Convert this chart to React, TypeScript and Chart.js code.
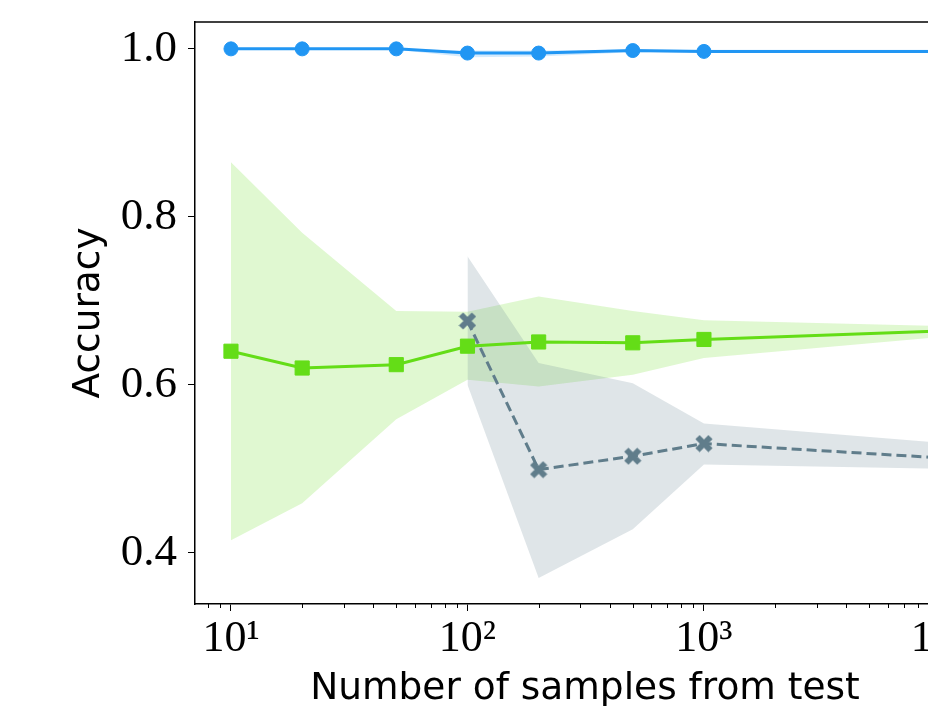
import React, { useEffect, useRef } from 'react';
import { Chart, registerables } from 'chart.js';

Chart.register(...registerables);

// ---- data ----
const sampleSizes = [10, 20, 50, 100, 200, 500, 1000, 10000];
const blueMean = [1.0, 1.0, 1.0, 0.995, 0.995, 0.998, 0.997, 0.997];
const blueUpper = [1.0, 1.0, 1.0, 0.998, 0.998, 0.999, 0.999, 0.999];
const blueLower = [1.0, 1.0, 0.999, 0.99, 0.991, 0.996, 0.995, 0.995];

const greenMean = [0.64, 0.62, 0.624, 0.646, 0.651, 0.65, 0.654, 0.664];
const greenUpper = [0.865, 0.781, 0.688, 0.687, 0.705, 0.688, 0.677, 0.67];
const greenLower = [0.415, 0.459, 0.559, 0.606, 0.598, 0.612, 0.632, 0.657];

const graySizes = [100, 200, 500, 1000, 10000];
const grayMean = [0.676, 0.499, 0.515, 0.53, 0.513];
const grayUpper = [0.753, 0.626, 0.602, 0.554, 0.531];
const grayLower = [0.6, 0.37, 0.428, 0.505, 0.5];

const yTickValues = [0.4, 0.6, 0.8, 1.0];
const xMajorLabels: Record<string, string> = {
  '10': '10¹',
  '100': '10²',
  '1000': '10³',
  '10000': '10⁴',
};

const BLUE = '#2196F3';
const GREEN = '#64DD17';
const GRAY = '#607D8B';

function pts(xs: number[], ys: number[]) {
  return xs.map((x, i) => ({ x, y: ys[i] }));
}

function isPow10(v: number) {
  const l = Math.log10(v);
  return Math.abs(l - Math.round(l)) < 1e-9;
}

const framePlugin = {
  id: 'frame',
  afterDraw(chart: any) {
    const { ctx, chartArea, scales } = chart;
    ctx.save();
    ctx.strokeStyle = '#000';
    ctx.lineWidth = 1.5;
    ctx.beginPath();
    ctx.moveTo(chartArea.left - 0.75, Math.round(chartArea.top));
    ctx.lineTo(chartArea.right, Math.round(chartArea.top));
    ctx.stroke();
    const xs = scales.x;
    ctx.lineWidth = 1;
    ctx.beginPath();
    xs.ticks.forEach((t: any) => {
      if (!isPow10(t.value)) {
        const px = Math.round(xs.getPixelForValue(t.value)) + 0.5;
        ctx.moveTo(px, chartArea.bottom);
        ctx.lineTo(px, chartArea.bottom + 4);
      }
    });
    ctx.stroke();
    ctx.restore();
  },
};

export default function App() {
  const ref = useRef<HTMLCanvasElement>(null);

  useEffect(() => {
    const canvas = ref.current!;
    const xMark = document.createElement('canvas');
    xMark.width = 18;
    xMark.height = 18;
    const g = xMark.getContext('2d')!;
    g.strokeStyle = GRAY;
    g.lineWidth = 6;
    g.lineCap = 'butt';
    g.beginPath();
    g.moveTo(2.5, 2.5);
    g.lineTo(15.5, 15.5);
    g.moveTo(15.5, 2.5);
    g.lineTo(2.5, 15.5);
    g.stroke();

    const band = (data: any, color: string, fill: any, order: number) => ({
      data,
      borderColor: 'rgba(0,0,0,0)',
      borderWidth: 0,
      backgroundColor: color,
      pointRadius: 0,
      pointHoverRadius: 0,
      fill,
      order,
      tension: 0,
    });

    const chart = new Chart(canvas, {
      type: 'line',
      data: {
        datasets: [
          band(pts(sampleSizes, blueUpper), 'rgba(33,150,243,0.2)', '+1', 5),
          band(pts(sampleSizes, blueLower), 'rgba(0,0,0,0)', false, 5),
          band(pts(sampleSizes, greenUpper), 'rgba(100,221,23,0.2)', '+1', 4),
          band(pts(sampleSizes, greenLower), 'rgba(0,0,0,0)', false, 4),
          band(pts(graySizes, grayUpper), 'rgba(96,125,139,0.2)', '+1', 3),
          band(pts(graySizes, grayLower), 'rgba(0,0,0,0)', false, 3),
          {
            data: pts(sampleSizes, blueMean),
            borderColor: BLUE,
            backgroundColor: BLUE,
            borderWidth: 3,
            pointStyle: 'circle',
            pointRadius: 7,
            pointBorderWidth: 1,
            pointBackgroundColor: BLUE,
            pointBorderColor: BLUE,
            fill: false,
            order: 2,
            tension: 0,
          },
          {
            data: pts(sampleSizes, greenMean),
            borderColor: GREEN,
            backgroundColor: GREEN,
            borderWidth: 3,
            pointStyle: 'rect',
            pointRadius: 10,
            pointBorderWidth: 1,
            pointBackgroundColor: GREEN,
            pointBorderColor: GREEN,
            fill: false,
            order: 1,
            tension: 0,
          },
          {
            data: pts(graySizes, grayMean),
            borderColor: GRAY,
            backgroundColor: GRAY,
            borderWidth: 3,
            borderDash: [10, 5],
            pointStyle: xMark,
            pointRadius: 9,
            fill: false,
            order: 0,
            tension: 0,
          },
        ],
      },
      options: {
        responsive: false,
        animation: false,
        events: [],
        devicePixelRatio: 1,
        layout: { padding: { top: 22, right: 25, left: 0, bottom: 0 } },
        plugins: {
          legend: { display: false },
          tooltip: { enabled: false },
          filler: { drawTime: 'beforeDatasetsDraw' },
        } as any,
        scales: {
          x: {
            type: 'logarithmic',
            position: 'bottom',
            min: 7.045,
            max: 14000,
            afterBuildTicks: (scale: any) => {
              const vals: number[] = [];
              for (let e = 0; e <= 4; e++) {
                for (let m = 1; m <= 9; m++) {
                  const v = m * Math.pow(10, e);
                  if (v >= scale.min && v <= scale.max) vals.push(v);
                }
              }
              scale.ticks = vals.map((v) => ({ value: v, major: isPow10(v) }));
            },
            afterFit: (scale: any) => {
              scale.height = 102;
              scale.paddingLeft = 0;
              scale.paddingRight = 0;
            },
            ticks: {
              autoSkip: false,
              maxRotation: 0,
              minRotation: 0,
              padding: 2,
              color: '#000',
              font: { family: 'Liberation Serif', size: 44 },
              callback: (value: any) => xMajorLabels[String(Math.round(Number(value)))] || '',
            },
            grid: {
              drawOnChartArea: false,
              drawTicks: true,
              tickLength: 7,
              tickWidth: 1,
              tickColor: (ctx: any) =>
                ctx.tick && isPow10(ctx.tick.value) ? '#000' : 'rgba(0,0,0,0)',
            },
            border: { display: true, color: '#000', width: 1.5 },
            title: {
              display: true,
              text: 'Number of samples from test',
              color: '#000',
              font: { family: 'DejaVu Sans', size: 37.5, lineHeight: 0.9 },
              padding: { top: 0, bottom: 0 },
            },
          },
          y: {
            type: 'linear',
            position: 'left',
            min: 0.339,
            max: 1.032,
            afterBuildTicks: (scale: any) => {
              scale.ticks = yTickValues.map((v) => ({ value: v }));
            },
            afterFit: (scale: any) => {
              scale.width = 195;
              scale.paddingTop = 0;
              scale.paddingBottom = 0;
            },
            ticks: {
              padding: 11,
              color: '#000',
              font: { family: 'Liberation Serif', size: 45 },
              callback: (value: any) => Number(value).toFixed(1),
            },
            grid: {
              drawOnChartArea: false,
              drawTicks: true,
              tickLength: 7,
              tickWidth: 1,
              tickColor: '#000',
            },
            border: { display: true, color: '#000', width: 1.5 },
            title: {
              display: true,
              text: 'Accuracy',
              color: '#000',
              font: { family: 'DejaVu Sans', size: 37.5, lineHeight: 1 },
              padding: { top: 71, bottom: 0 },
            },
          },
        },
      } as any,
      plugins: [framePlugin],
    });

    return () => chart.destroy();
  }, []);

  return (
    <div
      style={{
        position: 'fixed',
        left: 0,
        top: 0,
        width: 928,
        height: 706,
        overflow: 'hidden',
        background: '#fff',
      }}
    >
      <canvas ref={ref} width={1000} height={706} style={{ display: 'block', width: 1000, height: 706 }} />
    </div>
  );
}
